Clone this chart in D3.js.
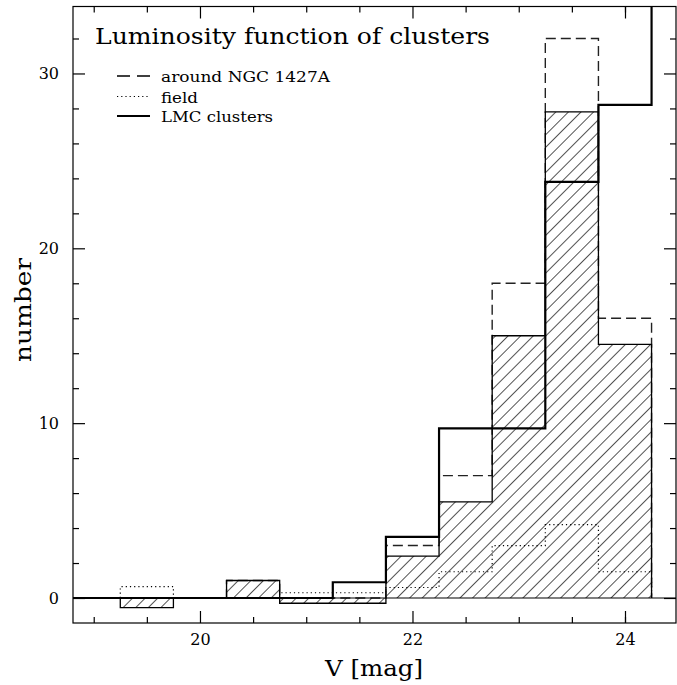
<!DOCTYPE html>
<html>
<head>
<meta charset="utf-8">
<script src="https://cdn.jsdelivr.net/npm/d3@7"></script>
<style>
  html, body { margin: 0; padding: 0; background: #fff; }
  svg { display: block; }
  text { font-family: "DejaVu Serif", "Liberation Serif", serif; fill: #000; }
</style>
</head>
<body>
<svg id="chart" width="677" height="685"></svg>
<script>
// ---- data ----
const binCenters = [19.5, 20.0, 20.5, 21.0, 21.5, 22.0, 22.5, 23.0, 23.5, 24.0];
const ngcCounts   = [0, 0, 1.0, 0, 0, 3.0, 7.0, 18.0, 32.0, 16.0];      // dashed: around NGC 1427A
const fieldCounts = [0.65, 0, 0, 0.3, 0.3, 0.6, 1.5, 3.0, 4.2, 1.5];    // dotted: field
const netCounts   = [-0.55, 0, 1.0, -0.3, -0.3, 2.4, 5.5, 15.0, 27.8, 14.5]; // hatched: net
const lmcCenters  = [19.0, 19.5, 20.0, 20.5, 21.0, 21.5, 22.0, 22.5, 23.0, 23.5, 24.0, 24.5];
const lmcCounts   = [0, 0, 0, 0, 0, 0.9, 3.5, 9.7, 9.7, 23.8, 28.2, 38];  // thick: LMC clusters
const binWidth = 0.5;
const xMajorTicks = [20, 22, 24];
const xMinorTicks = [19, 19.5, 20.5, 21, 21.5, 22.5, 23, 23.5, 24];
const yMajorTicks = [0, 10, 20, 30];
const yMinorTicks = [2, 4, 6, 8, 12, 14, 16, 18, 22, 24, 26, 28, 32];
const titleText = "Luminosity function of clusters";
const legendLabels = ["around NGC 1427A", "field", "LMC clusters"];
const xLabel = "V [mag]";
const yLabel = "number";

// ---- layout ----
const svg = d3.select("#chart");
const L = 73, R = 676, T = 6.5, B = 623;
const x = d3.scaleLinear().domain([18.805, 24.48]).range([L, R]);
const y = d3.scaleLinear().domain([-1.43, 33.83]).range([B, T]);

const defs = svg.append("defs");
defs.append("clipPath").attr("id", "plotclip")
  .append("rect").attr("x", L).attr("y", T).attr("width", R - L).attr("height", B - T);
const pat = defs.append("pattern").attr("id", "hatch")
  .attr("patternUnits", "userSpaceOnUse").attr("width", 8.9).attr("height", 8.9)
  .attr("patternTransform", "rotate(45)");
pat.append("line").attr("x1", 0).attr("y1", 0).attr("x2", 0).attr("y2", 8.9)
  .attr("stroke", "#000").attr("stroke-width", 1.35);

function stepPoints(centers, vals) {
  const pts = [[centers[0] - binWidth / 2, 0]];
  centers.forEach((c, i) => {
    pts.push([c - binWidth / 2, vals[i]]);
    pts.push([c + binWidth / 2, vals[i]]);
  });
  pts.push([centers[centers.length - 1] + binWidth / 2, 0]);
  return pts;
}
const line = d3.line().x(d => x(d[0])).y(d => y(d[1]));

const plot = svg.append("g").attr("clip-path", "url(#plotclip)");

// hatched net histogram
const netPts = stepPoints(binCenters, netCounts);
plot.append("path").attr("d", line(netPts) + "Z")
  .attr("fill", "url(#hatch)").attr("stroke", "none");

// field (dotted)
plot.append("path").attr("d", line(stepPoints(binCenters, fieldCounts)))
  .attr("fill", "none").attr("stroke", "#000").attr("stroke-width", 1.2)
  .attr("stroke-dasharray", "1.2,3");

// NGC (dashed)
plot.append("path").attr("d", line(stepPoints(binCenters, ngcCounts)))
  .attr("fill", "none").attr("stroke", "#222").attr("stroke-width", 1.4)
  .attr("stroke-dasharray", "10,5");

// net outline
plot.append("path").attr("d", line(netPts))
  .attr("fill", "none").attr("stroke", "#000").attr("stroke-width", 1.3);

// zero line
plot.append("line").attr("x1", L).attr("x2", R).attr("y1", y(0)).attr("y2", y(0))
  .attr("stroke", "#000").attr("stroke-width", 1.2);

// LMC (thick solid)
plot.append("path").attr("d", line(stepPoints(lmcCenters, lmcCounts)))
  .attr("fill", "none").attr("stroke", "#000").attr("stroke-width", 2.2);

// ---- axes ----
function styleAxis(g) {
  g.select(".domain").remove();
  g.selectAll("line").attr("stroke", "#000").attr("stroke-width", 1.2);
  g.selectAll("text").style("font-family", '"DejaVu Serif", serif').attr("fill", "#000");
}
svg.append("g").attr("transform", `translate(0,${B})`)
  .call(d3.axisBottom(x).tickValues(xMajorTicks).tickSizeInner(-12).tickSizeOuter(0).tickPadding(11).tickFormat(d3.format("d")))
  .call(styleAxis).selectAll("text").style("font-size", "16px");
svg.append("g").attr("transform", `translate(0,${B})`)
  .call(d3.axisBottom(x).tickValues(xMinorTicks).tickSize(-6).tickFormat(""))
  .call(styleAxis);
svg.append("g").attr("transform", `translate(0,${T})`)
  .call(d3.axisTop(x).tickValues(xMajorTicks).tickSize(-12).tickFormat(""))
  .call(styleAxis);
svg.append("g").attr("transform", `translate(0,${T})`)
  .call(d3.axisTop(x).tickValues(xMinorTicks).tickSize(-6).tickFormat(""))
  .call(styleAxis);
svg.append("g").attr("transform", `translate(${L},0)`)
  .call(d3.axisLeft(y).tickValues(yMajorTicks).tickSizeInner(-12).tickSizeOuter(0).tickPadding(14).tickFormat(d3.format("d")))
  .call(styleAxis).selectAll("text").style("font-size", "16px");
svg.append("g").attr("transform", `translate(${L},0)`)
  .call(d3.axisLeft(y).tickValues(yMinorTicks).tickSize(-6).tickFormat(""))
  .call(styleAxis);
svg.append("g").attr("transform", `translate(${R},0)`)
  .call(d3.axisRight(y).tickValues(yMajorTicks).tickSize(-12).tickFormat(""))
  .call(styleAxis);
svg.append("g").attr("transform", `translate(${R},0)`)
  .call(d3.axisRight(y).tickValues(yMinorTicks).tickSize(-6).tickFormat(""))
  .call(styleAxis);

// frame
svg.append("rect").attr("x", L).attr("y", T).attr("width", R - L).attr("height", B - T)
  .attr("fill", "none").attr("stroke", "#000").attr("stroke-width", 1.2);

// ---- texts ----
svg.append("text").attr("x", 95).attr("y", 44).attr("font-size", 22)
  .attr("textLength", 395).attr("lengthAdjust", "spacingAndGlyphs").text(titleText);

const legendY = [76, 96.5, 116];
const legendW = [169, 37, 112];
const legendStyles = [
  {dash: "13,7", w: 1.4},
  {dash: "1.2,3", w: 1.2},
  {dash: null, w: 2.2}
];
legendLabels.forEach((lab, i) => {
  const ln = svg.append("line").attr("x1", 117).attr("x2", 150)
    .attr("y1", legendY[i]).attr("y2", legendY[i])
    .attr("stroke", "#000").attr("stroke-width", legendStyles[i].w);
  if (legendStyles[i].dash) ln.attr("stroke-dasharray", legendStyles[i].dash);
  svg.append("text").attr("x", 161).attr("y", legendY[i] + 6).attr("font-size", 15.5)
    .attr("textLength", legendW[i]).attr("lengthAdjust", "spacingAndGlyphs").text(lab);
});

svg.append("text").attr("x", 374).attr("y", 676).attr("font-size", 23)
  .attr("text-anchor", "middle").attr("textLength", 98).attr("lengthAdjust", "spacingAndGlyphs").text(xLabel);
svg.append("text").attr("transform", "translate(31,310) rotate(-90)").attr("font-size", 23)
  .attr("text-anchor", "middle").attr("textLength", 104).attr("lengthAdjust", "spacingAndGlyphs").text(yLabel);
</script>
</body>
</html>
